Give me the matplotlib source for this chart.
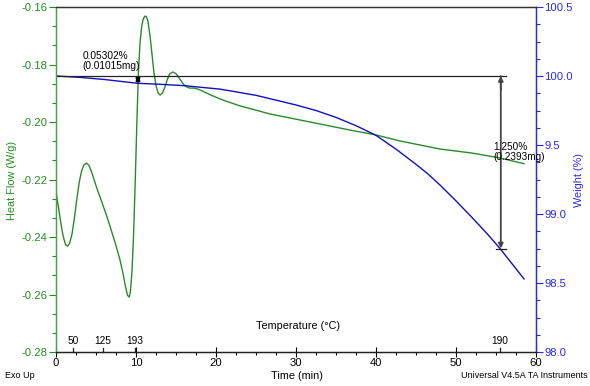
import matplotlib
matplotlib.use("Agg")
import matplotlib.pyplot as plt
from matplotlib.ticker import MultipleLocator, AutoMinorLocator, FixedFormatter, FixedLocator
from matplotlib.transforms import blended_transform_factory

plt.rcParams['font.family'] = ['Liberation Sans', 'DejaVu Sans']

# heat flow (W/g) vs time (min)
hf_time = [0, 0.3, 0.6, 0.9, 1.2, 1.45, 1.7, 2.0, 2.3, 2.6, 2.9, 3.2, 3.5, 3.8,
           4.1, 4.4, 4.8, 5.2, 5.6, 6.0, 6.5, 7.0, 7.5, 8.0, 8.4, 8.7, 8.95, 9.15,
           9.3, 9.5, 9.7, 9.9, 10.1, 10.3, 10.5, 10.7, 10.9, 11.1, 11.3, 11.5,
           11.75, 12.0, 12.25, 12.5, 12.75, 13.0, 13.3, 13.6, 13.9, 14.2, 14.6,
           15.0, 15.4, 15.8, 16.2, 16.7, 17.2, 17.8, 18.5, 19.5, 21.0, 23.0,
           26.75, 30.5, 36.75, 40.0, 43.0, 48.0, 52.0, 55.5, 58.5]
heat_flow = [-0.2243, -0.2295, -0.2350, -0.2398, -0.2427, -0.2432, -0.2422, -0.2390,
             -0.2335, -0.2268, -0.2210, -0.2170, -0.2149, -0.2143,
             -0.2150, -0.2170, -0.2204, -0.2238, -0.2268, -0.2300, -0.2340, -0.2385,
             -0.2430, -0.2480, -0.2530, -0.2575, -0.2603, -0.2609,
             -0.2590, -0.2520, -0.2390, -0.2210, -0.2010, -0.1830, -0.1725, -0.1670,
             -0.1642, -0.1632, -0.1633, -0.1650,
             -0.1700, -0.1765, -0.1830, -0.1873, -0.1898, -0.1906, -0.1900, -0.1880,
             -0.1853, -0.1833, -0.1826,
             -0.1832, -0.1847, -0.1864, -0.1876, -0.1882, -0.1882, -0.1886, -0.1895,
             -0.1908, -0.1925, -0.1944,
             -0.1972, -0.1993, -0.2028, -0.2045, -0.2066, -0.2094, -0.2108, -0.2125,
             -0.2145]

# weight (%) vs time (min)
wt_time = [0, 3, 6, 9, 10.25, 13, 16, 20.5, 25, 30, 32.5, 35, 37.5, 40, 42.5, 45,
           46.5, 48, 50, 52, 54, 55.5, 57, 58.5]
weight = [100.0, 99.99, 99.975, 99.955, 99.947, 99.94, 99.93, 99.905, 99.86, 99.79,
          99.75, 99.70, 99.64, 99.57, 99.47, 99.36,
          99.29, 99.21, 99.095, 98.975, 98.85, 98.75, 98.64, 98.53]

# temperature markers on the time axis
temp_time = [2.1, 5.9, 9.9, 55.5]
temp_labels = ["50", "125", "193", "190"]

# weight-loss steps
step_small = (10.25, 100.0, 99.947, "0.05302%\n(0.01015mg)")
step_big = (55.6, 100.0, 98.75, "1.250%\n(0.2393mg)")

GREEN = "#2a8a2a"
GREEN_TXT = "#1f8f1f"
BLUE = "#1010c0"
BLUE_TXT = "#2828f0"

fig = plt.figure(figsize=(5.9, 3.86), dpi=100)
ax = fig.add_axes([56 / 590, 34 / 386, 480 / 590, 345 / 386])
ax2 = ax.twinx()

ax.plot(hf_time, heat_flow, color=GREEN, lw=1.0, zorder=3)
ax2.plot(wt_time, weight, color=BLUE, lw=1.0)

ax.set_xlim(0, 60)
ax.set_ylim(-0.28, -0.16)
ax2.set_ylim(98.0, 100.5)

# left axis
ax.yaxis.set_major_locator(MultipleLocator(0.02))
ax.yaxis.set_minor_locator(AutoMinorLocator(3))
ax.yaxis.set_major_formatter(plt.FuncFormatter(lambda v, p: f"{v:.2f}"))
ax.tick_params(axis='y', which='major', direction='out', length=5, width=0.8,
               colors=GREEN_TXT, labelsize=8.1, pad=1)
ax.tick_params(axis='y', which='minor', direction='out', length=3, width=0.8,
               colors=GREEN_TXT)

# time axis
ax.xaxis.set_major_locator(MultipleLocator(10))
ax.xaxis.set_minor_locator(MultipleLocator(2.5))
ax.tick_params(axis='x', which='major', direction='inout', length=7, width=0.8,
               labelsize=8.1, pad=1)
ax.tick_params(axis='x', which='minor', direction='out', length=2.5, width=0.8)

# right axis
wt_ticks = [98.0, 98.5, 99.0, 99.5, 100.0, 100.5]
ax2.yaxis.set_major_locator(FixedLocator(wt_ticks))
ax2.yaxis.set_major_formatter(FixedFormatter(["98.0", "98.5", "99.0", "9.5", "100.0", "100.5"]))
ax2.yaxis.set_minor_locator(AutoMinorLocator(4))
ax2.tick_params(axis='y', which='major', direction='out', length=5, width=0.8,
                colors=BLUE_TXT, labelsize=8.1, pad=1)
ax2.tick_params(axis='y', which='minor', direction='out', length=3, width=0.8,
                colors=BLUE_TXT)

for a in (ax, ax2):
    a.spines['left'].set_color("#4aa04a")
    a.spines['right'].set_color(BLUE_TXT)
    a.spines['top'].set_color("#333333")
    a.spines['bottom'].set_color("#222222")
    for s in a.spines.values():
        s.set_linewidth(0.9)

# weight-loss annotations
t0, w0, w1, txt = step_small
ax2.annotate("", xy=(t0, w1), xytext=(t0, w0),
             arrowprops=dict(arrowstyle="<|-|>", color="black", lw=1.6,
                             mutation_scale=5, shrinkA=0, shrinkB=0))
ax2.text(t0 - 6.9, w0 + 0.035, txt, fontsize=7.3, va='bottom', ha='left',
         linespacing=1.0)

t1, w0b, w1b, txt2 = step_big
ax2.plot([0, t1 + 0.6], [w0b, w0b], color="#222222", lw=0.9)
ax2.plot([t1 - 0.6, t1 + 0.6], [w1b, w1b], color="#222222", lw=0.9)
ax2.annotate("", xy=(t1, w1b), xytext=(t1, w0b),
             arrowprops=dict(arrowstyle="-|>", color="#444444", lw=1.3,
                             mutation_scale=7, shrinkA=0, shrinkB=0))
ax2.annotate("", xy=(t1, w0b), xytext=(t1, w0b - 0.1),
             arrowprops=dict(arrowstyle="-|>", color="#444444", lw=1.3,
                             mutation_scale=7, shrinkA=0, shrinkB=0))
ax2.text(t1 - 0.9, 99.52, txt2, fontsize=7.2, va='top', ha='left',
         linespacing=1.0)

# temperature marks
tr = blended_transform_factory(ax.transData, ax.transAxes)
for t, lab in zip(temp_time, temp_labels):
    ax.plot([t, t], [0, 0.013], color="#222222", lw=0.9, transform=tr, clip_on=False)
    ax.text(t, 0.016, lab, transform=tr, ha='center', va='bottom', fontsize=7.3)
ax.text(0.504, 0.075, "Temperature (°C)", transform=ax.transAxes, ha='center',
        va='center', fontsize=7.8)

# axis titles and footer
fig.text(12 / 590, 1 - 180 / 386, "Heat Flow (W/g)", rotation=90, color=GREEN_TXT,
         ha='center', va='center', fontsize=7.8)
fig.text(579 / 590, 1 - 180 / 386, "Weight (%)", rotation=90, color=BLUE_TXT,
         ha='center', va='center', fontsize=7.8)
fig.text(297 / 590, 1 - 376 / 386, "Time (min)", ha='center', va='center', fontsize=7.8)
fig.text(5 / 590, 1 - 376 / 386, "Exo Up", ha='left', va='center', fontsize=6.5)
fig.text(588 / 590, 1 - 376 / 386, "Universal V4.5A TA Instruments", ha='right',
         va='center', fontsize=6.5)

fig.savefig("out.png", dpi=100)
